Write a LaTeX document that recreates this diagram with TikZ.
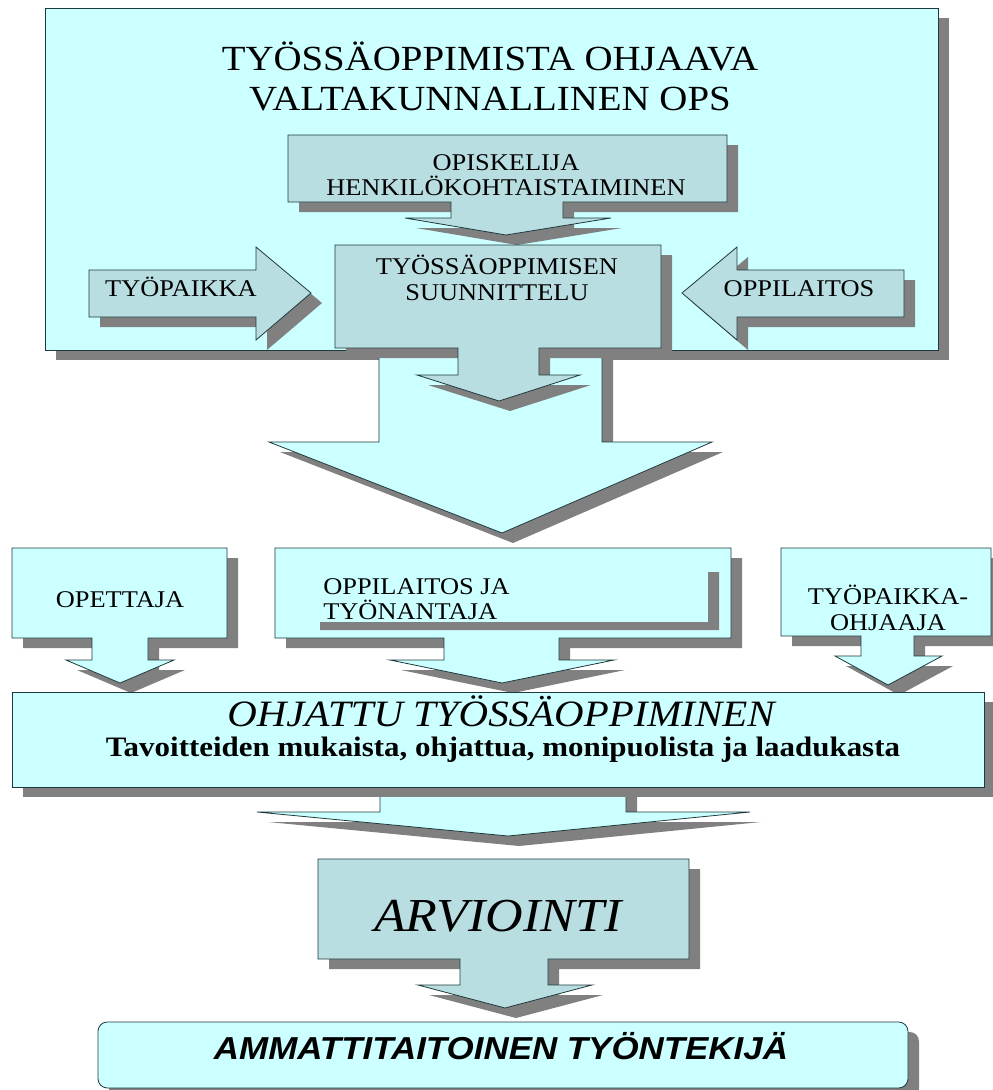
\documentclass[tikz,border=0pt]{standalone}
\usepackage{fontspec}
\usepackage{graphicx}
\setmainfont{Liberation Serif}
\newfontfamily\arialfont{Liberation Sans}

\definecolor{lightcyan}{HTML}{CCFFFF}
\definecolor{darkcyan}{HTML}{B9DEE2}
\definecolor{shadowgray}{HTML}{808080}
\definecolor{edgecol}{HTML}{1F3A3D}

\newcommand{\widen}[1]{\scalebox{1.1}[1]{#1}}
\newcommand{\shadowed}[2]{%
  \fill[dropshade, shift={(11,10)}] #2;
  \path[#1] #2;}

\begin{document}
\begin{tikzpicture}[x = 0.75pt, y = -0.75pt,
        lightfill/.style = {fill = lightcyan, draw = edgecol, line width = 0.6pt},
        darkfill/.style  = {fill = darkcyan, draw = edgecol, line width = 0.6pt},
        dropshade/.style = {fill = shadowgray},
        boxtext/.style   = {inner sep = 0pt, align = center, font = \fontsize{18}{19.2}\selectfont}]

        \fill[white] (0,0) rectangle (993,1090);
        \useasboundingbox (0,0) rectangle (993,1090);

        \shadowed{lightfill}{(45,8) rectangle (938,350)}
        \shadowed{lightfill}{(379,340) -- (602,340) -- (602,442) -- (712,442) -- (502,533) -- (269,442) -- (379,442) -- cycle}

        \shadowed{darkfill}{(288,135) -- (727,135) -- (727,202) -- (563,202) -- (563,218) -- (611,218) -- (506,235) -- (405,218) -- (451,218) -- (451,202) -- (288,202) -- cycle}
        \shadowed{darkfill}{(89,270) -- (256,270) -- (256,247) -- (311,293) -- (256,340) -- (256,317) -- (89,317) -- cycle}
        \shadowed{darkfill}{(904,270) -- (737,270) -- (737,247) -- (682,293) -- (737,340) -- (737,317) -- (904,317) -- cycle}
        \shadowed{darkfill}{(335,245) -- (661,245) -- (661,348) -- (539,348) -- (539,375) -- (580,375) -- (499,401) -- (417,375) -- (458,375) -- (458,348) -- (335,348) -- cycle}

        \shadowed{lightfill}{(12,548) -- (227,548) -- (227,638) -- (148,638) -- (148,660) -- (174,660) -- (120,683) -- (66,660) -- (92,660) -- (92,638) -- (12,638) -- cycle}
        \shadowed{lightfill}{(275,548) -- (731,548) -- (731,638) -- (559,638) -- (559,660) -- (614,660) -- (502,683) -- (390,660) -- (444,660) -- (444,638) -- (275,638) -- cycle}
        \fill[dropshade] (708,572) rectangle (719,630) (320,622) rectangle (719,630);
        \shadowed{lightfill}{(781,548) -- (991,548) -- (991,636) -- (914,636) -- (914,656) -- (942,656) -- (888,685) -- (835,656) -- (861,656) -- (861,636) -- (781,636) -- cycle}

        \shadowed{lightfill}{(380,780) -- (626,780) -- (626,812) -- (750,812) -- (508,836) -- (257,812) -- (380,812) -- cycle}
        \shadowed{lightfill}{(12,692) rectangle (984,787)}

        \shadowed{darkfill}{(318,859) -- (689,859) -- (689,959) -- (548,959) -- (548,985) -- (592,985) -- (505,1008) -- (418,985) -- (460,985) -- (460,959) -- (318,959) -- cycle}
        \fill[dropshade, rounded corners = 7pt] (109,1032) rectangle (919,1098);
        \path[lightfill, rounded corners = 7pt] (98,1022) rectangle (908,1088);

        \node[boxtext, font = \fontsize{26.5}{30}\selectfont] (ops) at (490,76)
            {\widen{TYÖSSÄOPPIMISTA OHJAAVA}\\\widen{VALTAKUNNALLINEN OPS}};
        \node[boxtext] (opiskelija) at (506,175)
            {\widen{OPISKELIJA}\\\widen{HENKILÖKOHTAISTAIMINEN}};
        \node[boxtext, font = \fontsize{18}{19.5}\selectfont] (suunnittelu) at (497,278)
            {\widen{TYÖSSÄOPPIMISEN}\\\widen{SUUNNITTELU}};
        \node[boxtext, anchor = base] (tyopaikka) at (181,296) {\widen{TYÖPAIKKA}};
        \node[boxtext, anchor = base] (oppilaitos) at (799,296) {\widen{OPPILAITOS}};

        \node[boxtext, anchor = base] (opettaja) at (120,607) {\widen{OPETTAJA}};
        \node[boxtext, align = left, anchor = west] (tyonantaja) at (323,599)
            {\widen{OPPILAITOS JA}\\\widen{TYÖNANTAJA}};
        \node[boxtext] (ohjaaja) at (888,608)
            {\widen{TYÖPAIKKA-}\\\widen{OHJAAJA}};

        \node[boxtext, anchor = base, font = \fontsize{27.9}{32}\selectfont\itshape] (ohjattu) at (501,726)
            {\widen{OHJATTU TYÖSSÄOPPIMINEN}};
        \node[boxtext, anchor = base, font = \fontsize{21.1}{25}\selectfont\bfseries] (tavoitteet) at (503,756)
            {\widen{Tavoitteiden mukaista, ohjattua, monipuolista ja laadukasta}};

        \node[boxtext, anchor = base, font = \fontsize{35.5}{40}\selectfont\itshape] (arviointi) at (498,931)
            {\widen{ARVIOINTI}};
        \node[boxtext, anchor = base, font = \fontsize{23.8}{28}\selectfont\arialfont\bfseries\itshape] (tyontekija) at (501,1059)
            {\widen{AMMATTITAITOINEN TYÖNTEKIJÄ}};

    \end{tikzpicture}
\end{document}
